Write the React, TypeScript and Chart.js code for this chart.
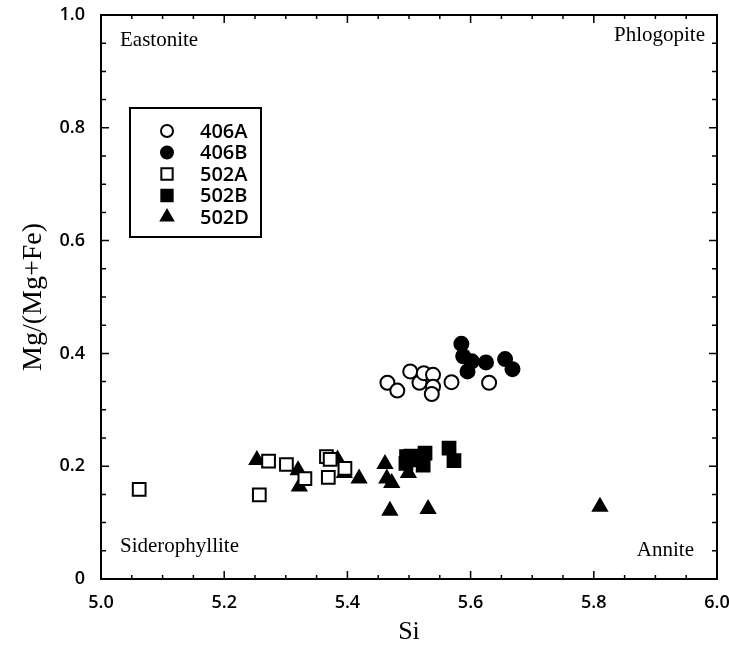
import React, { useEffect, useRef } from "react";
import { Chart, registerables } from "chart.js";

Chart.register(...registerables);

// Biotite compositions: Si (apfu) vs Mg/(Mg+Fe)
const seriesNames = ["406A", "406B", "502A", "502B", "502D"];

const si406A = [5.465, 5.481, 5.502, 5.517, 5.524, 5.539, 5.539, 5.537, 5.569, 5.63];
const mg406A = [0.348, 0.334, 0.368, 0.348, 0.365, 0.362, 0.341, 0.328, 0.349, 0.348];

const si406B = [5.585, 5.588, 5.602, 5.595, 5.625, 5.656, 5.668];
const mg406B = [0.417, 0.395, 0.386, 0.368, 0.384, 0.39, 0.372];

const si502A = [5.062, 5.257, 5.272, 5.301, 5.331, 5.366, 5.372, 5.396, 5.369];
const mg502A = [0.159, 0.149, 0.209, 0.203, 0.178, 0.217, 0.212, 0.196, 0.18];

const si502B = [5.496, 5.495, 5.503, 5.518, 5.523, 5.526, 5.565, 5.573];
const mg502B = [0.217, 0.205, 0.218, 0.211, 0.202, 0.223, 0.232, 0.21];

const si502D = [5.253, 5.32, 5.322, 5.384, 5.395, 5.419, 5.461, 5.464, 5.472, 5.469, 5.499, 5.531, 5.81];
const mg502D = [0.211, 0.193, 0.164, 0.212, 0.188, 0.178, 0.204, 0.178, 0.17, 0.121, 0.188, 0.124, 0.128];

const endMembers = ["Eastonite", "Phlogopite", "Siderophyllite", "Annite"];

const xTickValues = [5.0, 5.2, 5.4, 5.6, 5.8, 6.0];
const yTickValues = [0, 0.2, 0.4, 0.6, 0.8, 1.0];

const pts = (xs: number[], ys: number[]) => xs.map((x, i) => ({ x, y: ys[i] }));

type MarkerStyle = { style: string; fill: string; radius: number };
const markers: MarkerStyle[] = [
  { style: "circle", fill: "#ffffff", radius: 7 },
  { style: "circle", fill: "#000000", radius: 7 },
  { style: "rect", fill: "#ffffff", radius: 9 },
  { style: "rect", fill: "#000000", radius: 9 },
  { style: "triangle", fill: "#000000", radius: 8 },
];

function drawMarker(ctx: CanvasRenderingContext2D, m: MarkerStyle, x: number, y: number) {
  ctx.save();
  ctx.fillStyle = m.fill;
  ctx.strokeStyle = "#000";
  ctx.lineWidth = 2;
  ctx.beginPath();
  if (m.style === "circle") {
    ctx.arc(x, y, m.radius, 0, Math.PI * 2);
  } else if (m.style === "rect") {
    const s = m.radius * Math.SQRT1_2;
    ctx.rect(x - s, y - s, 2 * s, 2 * s);
  } else {
    const r = m.radius;
    ctx.moveTo(x, y - r);
    ctx.lineTo(x + r * Math.cos(Math.PI / 6), y + r * 0.5);
    ctx.lineTo(x - r * Math.cos(Math.PI / 6), y + r * 0.5);
    ctx.closePath();
  }
  ctx.fill();
  ctx.stroke();
  ctx.restore();
}

const serif = "'Liberation Serif', 'Times New Roman', serif";
const sans = "'Open Sans', 'DejaVu Sans', sans-serif";

const framePlugin = {
  id: "frameAndTicks",
  afterDatasetsDraw(chart: any) {
    const { ctx, chartArea: a, scales } = chart;
    const xs = scales.x;
    const ys = scales.y;
    ctx.save();
    ctx.strokeStyle = "#000";
    ctx.lineWidth = 2;
    ctx.strokeRect(a.left, a.top, a.right - a.left, a.bottom - a.top);
    ctx.lineWidth = 1.5;
    ctx.beginPath();
    for (let i = 1; i < 20; i++) {
      const v = 5 + i * 0.05;
      const px = xs.getPixelForValue(v);
      const len = i % 4 === 0 ? 8 : 4;
      ctx.moveTo(px, a.bottom);
      ctx.lineTo(px, a.bottom - len);
      ctx.moveTo(px, a.top);
      ctx.lineTo(px, a.top + len);
    }
    for (let i = 1; i < 20; i++) {
      const v = i * 0.05;
      const py = ys.getPixelForValue(v);
      const len = i % 4 === 0 ? 8 : 5;
      ctx.moveTo(a.left, py);
      ctx.lineTo(a.left + len, py);
      ctx.moveTo(a.right, py);
      ctx.lineTo(a.right - len, py);
    }
    ctx.stroke();

    // end-member labels in the corners
    ctx.fillStyle = "#000";
    ctx.font = `21px ${serif}`;
    ctx.textBaseline = "alphabetic";
    ctx.textAlign = "left";
    ctx.fillText(endMembers[0], a.left + 19, a.top + 31);
    ctx.fillText(endMembers[2], a.left + 19, a.bottom - 27);
    ctx.textAlign = "right";
    ctx.fillText(endMembers[1], a.right - 12, a.top + 26);
    ctx.fillText(endMembers[3], a.right - 23, a.bottom - 23);

    // legend box
    const bx = a.left + 29;
    const by = a.top + 93;
    const bw = 131;
    const bh = 129;
    ctx.lineWidth = 2;
    ctx.strokeRect(bx, by, bw, bh);
    ctx.font = `600 20px ${sans}`;
    ctx.textAlign = "left";
    ctx.textBaseline = "middle";
    seriesNames.forEach((name, i) => {
      const cy = by + 23 + i * 21.5;
      drawMarker(ctx, { ...markers[i], radius: markers[i].radius - 1 }, bx + 37, cy);
      ctx.fillStyle = "#000";
      ctx.fillText(name, bx + 70, cy + 1);
    });
    ctx.restore();
  },
};

const tickFont = { family: sans, size: 18, weight: 600 as any };

const noEdgePadding = (s: any) => {
  s.paddingLeft = 0;
  s.paddingRight = 0;
  s.paddingTop = 0;
  s.paddingBottom = 0;
};

export default function App() {
  const canvasRef = useRef<HTMLCanvasElement | null>(null);

  useEffect(() => {
    if (!canvasRef.current) return;
    const series = [
      pts(si406A, mg406A),
      pts(si406B, mg406B),
      pts(si502A, mg502A),
      pts(si502B, mg502B),
      pts(si502D, mg502D),
    ];
    const chart = new Chart(canvasRef.current, {
      type: "scatter",
      data: {
        datasets: series.map((data, i) => ({
          label: seriesNames[i],
          data,
          pointStyle: markers[i].style as any,
          pointRadius: markers[i].radius,
          pointHoverRadius: markers[i].radius,
          pointBackgroundColor: markers[i].fill,
          pointBorderColor: "#000000",
          pointBorderWidth: 2,
        })),
      },
      options: {
        animation: false,
        responsive: false,
        events: [],
        layout: { padding: { top: 15, right: 12, left: 0, bottom: 0 } },
        plugins: { legend: { display: false }, tooltip: { enabled: false } },
        scales: {
          x: {
            type: "linear",
            min: 5,
            max: 6,
            afterBuildTicks: (s: any) => {
              s.ticks = xTickValues.map((value) => ({ value }));
            },
            afterFit: (s: any) => {
              s.height = 72;
              noEdgePadding(s);
            },
            grid: { display: false, drawTicks: false },
            border: { display: false },
            ticks: {
              color: "#000",
              font: tickFont,
              padding: 13,
              maxRotation: 0,
              callback: (v: any) => Number(v).toFixed(1),
            },
            title: {
              display: true,
              text: "Si",
              color: "#000",
              font: { family: serif, size: 26 },
              padding: { top: 0, bottom: 3 },
            },
          },
          y: {
            type: "linear",
            min: 0,
            max: 1,
            afterBuildTicks: (s: any) => {
              s.ticks = yTickValues.map((value) => ({ value }));
            },
            afterFit: (s: any) => {
              s.width = 101;
              noEdgePadding(s);
            },
            grid: { display: false, drawTicks: false },
            border: { display: false },
            ticks: {
              color: "#000",
              font: tickFont,
              padding: 16,
              callback: (v: any) => (Number(v) === 0 ? "0" : Number(v).toFixed(1)),
            },
            title: {
              display: true,
              text: "Mg/(Mg+Fe)",
              color: "#000",
              font: { family: serif, size: 28 },
              padding: { top: 17, bottom: 0 },
            },
          },
        },
      },
      plugins: [framePlugin],
    });
    return () => chart.destroy();
  }, []);

  return (
    <div style={{ position: "fixed", left: 0, top: 0, width: 729, height: 651, background: "#fff" }}>
      <canvas ref={canvasRef} width={729} height={651} />
    </div>
  );
}
